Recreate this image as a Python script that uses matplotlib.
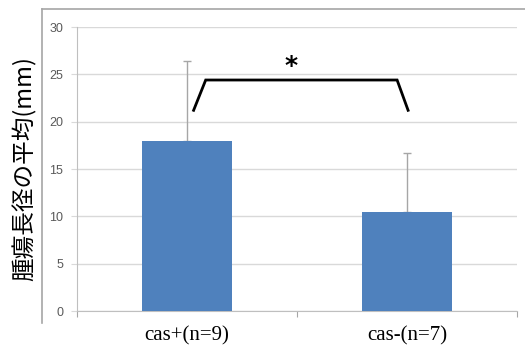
import matplotlib
matplotlib.use("Agg")
import matplotlib.pyplot as plt
from matplotlib.lines import Line2D

categories = ["cas+(n=9)", "cas-(n=7)"]
means = [18.0, 10.5]
errors_upper = [8.4, 6.2]
yticks = [0, 5, 10, 15, 20, 25, 30]
ylabel = "腫瘍長径の平均(mm)"
sig_label = "*"
bracket_x = [0.03, 0.085, 0.955, 1.005]
bracket_y = [21.2, 24.4, 24.4, 21.2]

fig = plt.figure(figsize=(5.25, 3.49), dpi=100)
ax = fig.add_axes([77/525, 1-311/349, 440/525, 284/349])

x = list(range(len(categories)))
ax.bar(x, means, width=0.405, color="#4F81BD", zorder=3)
ax.errorbar(x, means, yerr=[[0]*len(means), errors_upper], fmt="none",
            ecolor="#A6A6A6", elinewidth=1.0, capsize=3, capthick=1.0, zorder=2)

ax.plot(bracket_x, bracket_y, color="black", lw=2, solid_joinstyle="miter", zorder=5)
ax.text(0.475, 24.6, sig_label, ha="center", va="bottom", fontsize=18,
        fontweight="bold", color="black")

ax.set_xlim(-0.5, 1.5)
ax.set_ylim(0, 30)
ax.set_yticks(yticks)
ax.set_yticklabels([str(t) for t in yticks], fontsize=9, color="#595959",
                   family=["Liberation Sans", "DejaVu Sans"])
ax.yaxis.grid(True, color="#D9D9D9", lw=1, zorder=0)
ax.set_axisbelow(True)

ax.set_xticks([-0.5, 0.5, 1.5])
ax.set_xticklabels([])
ax.set_xticks(x, minor=True)
ax.set_xticklabels(categories, minor=True, fontsize=15,
                   family=["Liberation Serif", "DejaVu Serif"], color="black")
ax.tick_params(axis="x", which="minor", length=0, pad=11)
ax.tick_params(axis="x", which="major", length=4, color="#A6A6A6", direction="out")
ax.tick_params(axis="y", length=4, color="#D9D9D9", direction="out", pad=6)

for s in ["top", "right"]:
    ax.spines[s].set_visible(False)
ax.spines["left"].set_color("#BFBFBF")
ax.spines["bottom"].set_color("#BFBFBF")

ax.set_ylabel(ylabel, fontsize=17, family=["Noto Sans CJK JP", "DejaVu Sans"],
              color="black", labelpad=9)

# outer chart frame (partially visible)
fig.add_artist(Line2D([42/525, 42/525], [1-323/349, 1-9/349], color="#A6A6A6", lw=1.2,
                      transform=fig.transFigure))
fig.add_artist(Line2D([42/525, 1.0], [1-9/349, 1-9/349], color="#A6A6A6", lw=1.2,
                      transform=fig.transFigure))

fig.savefig("out.png", dpi=100)
